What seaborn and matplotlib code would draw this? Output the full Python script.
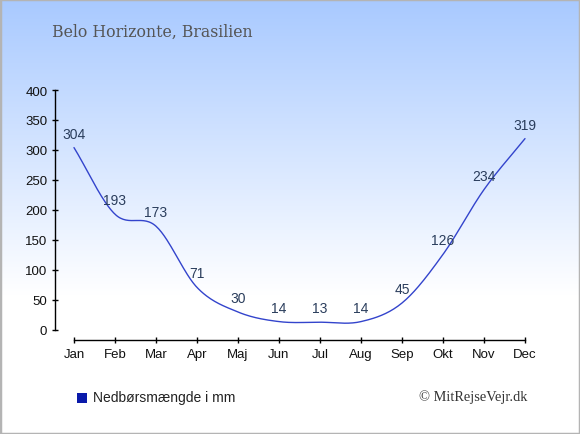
import numpy as np
import pandas as pd
import matplotlib
matplotlib.use("Agg")
import matplotlib.pyplot as plt
from matplotlib.patches import Rectangle
import seaborn as sns

# -- data
maaneder = ["Jan", "Feb", "Mar", "Apr", "Maj", "Jun", "Jul", "Aug", "Sep", "Okt", "Nov", "Dec"]
nedboer = [304, 193, 173, 71, 30, 14, 13, 14, 45, 126, 234, 319]
y_ticks = [0, 50, 100, 150, 200, 250, 300, 350, 400]
titel = "Belo Horizonte, Brasilien"
legende = "Nedbørsmængde i mm"
kilde = "© MitRejseVejr.dk"


def catmull_rom(xs, ys, n=30):
    # smooth line through the points, only for drawing
    xs = np.asarray(xs, float)
    ys = np.asarray(ys, float)
    px = np.concatenate([[2 * xs[0] - xs[1]], xs, [2 * xs[-1] - xs[-2]]])
    py = np.concatenate([[2 * ys[0] - ys[1]], ys, [2 * ys[-1] - ys[-2]]])
    out_x, out_y = [], []
    t = np.linspace(0, 1, n, endpoint=False)
    for i in range(1, len(px) - 2):
        for p, out in ((px, out_x), (py, out_y)):
            p0, p1, p2, p3 = p[i - 1], p[i], p[i + 1], p[i + 2]
            out.extend(0.5 * ((2 * p1) + (-p0 + p2) * t
                              + (2 * p0 - 5 * p1 + 4 * p2 - p3) * t ** 2
                              + (-p0 + 3 * p1 - 3 * p2 + p3) * t ** 3))
    out_x.append(xs[-1])
    out_y.append(ys[-1])
    return np.array(out_x), np.array(out_y)


sns.set_style("white")
plt.rcParams["font.family"] = ["Liberation Sans", "DejaVu Sans"]

W, H = 580, 435
fig = plt.figure(figsize=(W / 100, H / 100), dpi=100)

# -- background gradient
bg = fig.add_axes([0, 0, 1, 1], zorder=-10)
grad = np.linspace(0, 1, 435)
frac = np.clip(grad / 0.68, 0, 1)
top = np.array([0.66, 0.79, 1.0])
col = top[None, :] * (1 - frac[:, None]) + np.ones(3)[None, :] * frac[:, None]
bg.imshow(col[:, None, :], aspect="auto", extent=[0, 1, 0, 1])
bg.add_patch(Rectangle((0, 0), 1, 1, transform=bg.transAxes, fill=False,
                       edgecolor="#b4b4b4", linewidth=2.5))
bg.set_axis_off()

# -- main axes
ax = fig.add_axes([55 / W, (H - 341) / H, 485 / W, 250 / H])
ax.patch.set_alpha(0)
xs = np.arange(len(maaneder))
sx, sy = catmull_rom(xs, nedboer)
df = pd.DataFrame({"x": sx, "y": sy})
sns.lineplot(data=df, x="x", y="y", sort=False, color="#3344cc", linewidth=1.0, ax=ax)

for x, v in zip(xs, nedboer):
    ax.annotate(str(v), (x, v), xytext=(0, 14), textcoords="offset pixels",
                ha="center", va="center", fontsize=10, color="#2a3d5c")

ax.set_xlim(-0.463, 11.366)
ax.set_ylim(-16.67, 400)
ax.set_xticks(xs)
ax.set_xticklabels(maaneder)
ax.set_yticks(y_ticks)
ax.set_xlabel("")
ax.set_ylabel("")
for s in ["top", "right"]:
    ax.spines[s].set_visible(False)
ax.spines["left"].set_bounds(0, 400)
ax.spines["bottom"].set_bounds(0, 11)
for s in ["left", "bottom"]:
    ax.spines[s].set_color("black")
    ax.spines[s].set_linewidth(1.0)
ax.tick_params(axis="both", direction="inout", length=5, width=1, color="black",
               labelsize=9.5, labelcolor="#111111", pad=3, bottom=True, left=True)

fig.text(52 / W, 1 - 32 / H, titel, fontsize=11.3, color="#555555",
         family=["DejaVu Serif"], ha="left", va="center")

fig.patches.append(Rectangle((77 / W, 1 - 404 / H), 10 / W, 10 / H,
                             transform=fig.transFigure, facecolor="#0a1aaa",
                             edgecolor="none"))
fig.text(93 / W, 1 - 398 / H, legende, fontsize=10, color="#222222",
         ha="left", va="center")
fig.text(527 / W, 1 - 397 / H, kilde, fontsize=10.4, color="#333333",
         family=["Liberation Serif"], ha="right", va="center")

fig.savefig("out.png", dpi=100)
